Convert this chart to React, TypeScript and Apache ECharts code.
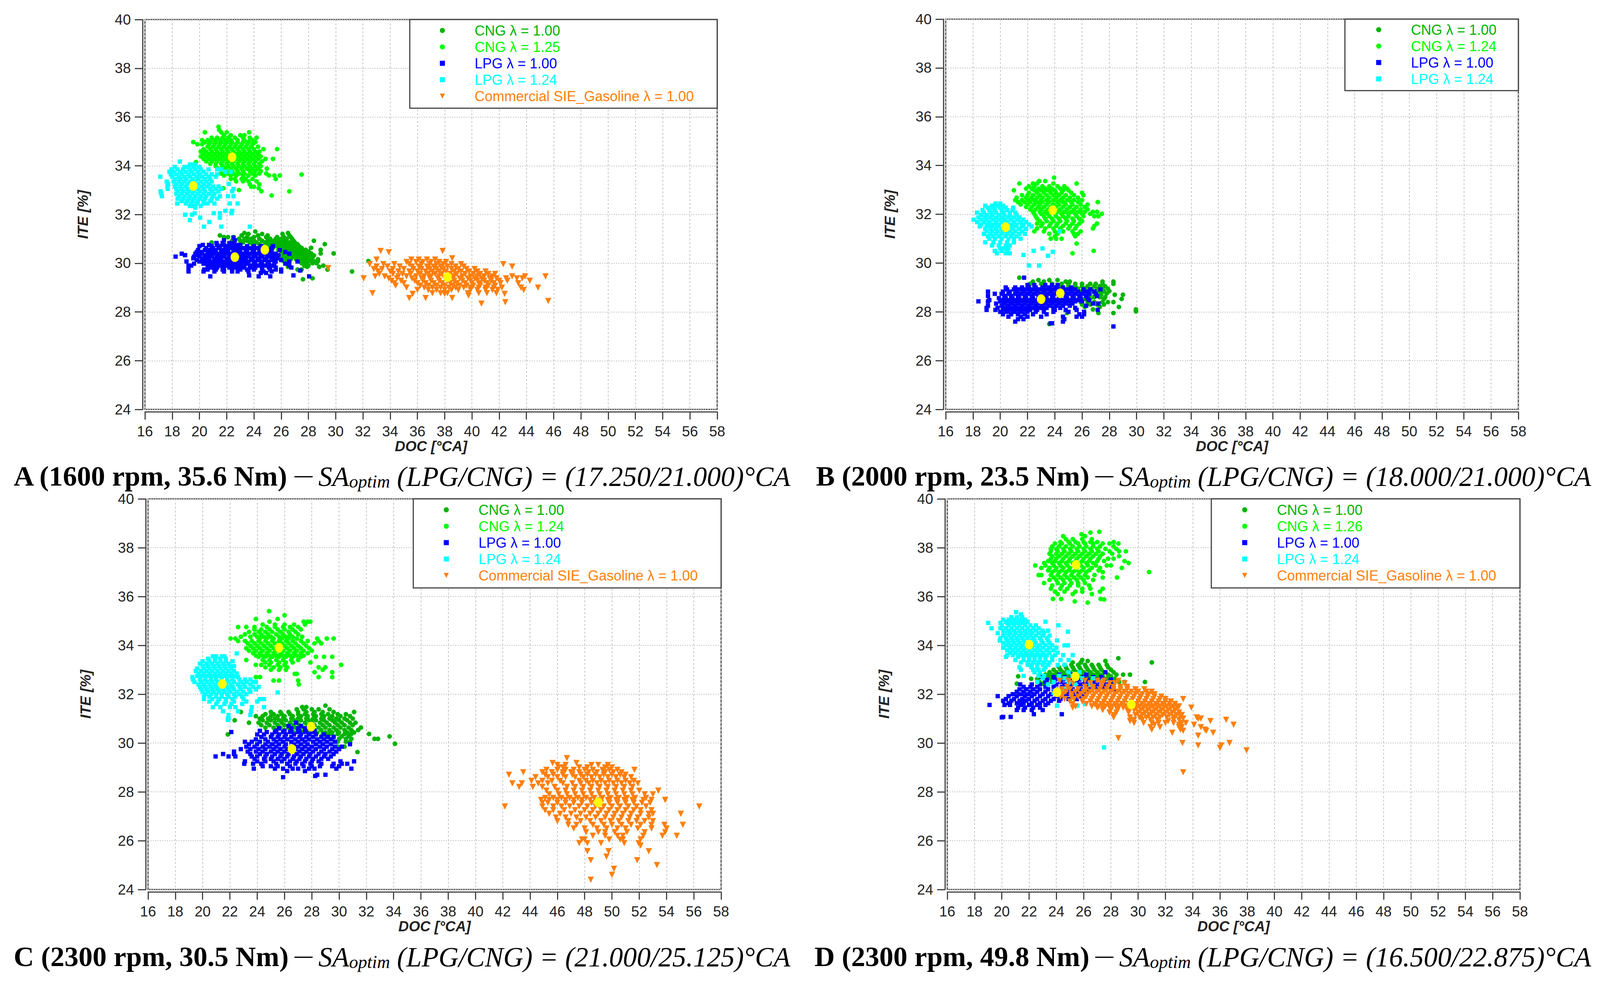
import React, { useEffect, useRef } from "react";
import * as echarts from "echarts";

// Each row: [ITE value, DOC values read at that ITE ...]
const aCng100 = [
[31.3,24.1],[31.24,23.3,26.5],[31.2,23.6,24.6,26.1],[31.14,21.5,23.1,24.3,25,26.6],[31.07,21.8,22.1,22.5,23.5,24,24.9,25.7,26.2,26.7],
[31,22.9,23.3,23.8,24.4,25.2,25.6,26,26.4,26.8],[30.92,22.4,23,23.5,24,24.6,25,25.5,25.9,26.3,26.9,28.4],[30.85,20.9,23.2,23.7,24.2,24.8,25.3,25.8,26.1,26.6,27],
[30.78,23.9,24.4,25,25.6,26,26.4,26.8,27.2,29.2],[30.7,24.6,25.2,25.7,26.2,26.6,27,27.3],[30.63,25.4,25.9,26.4,26.8,27.2,27.5,28.2],[30.55,25.8,26.2,26.6,27,27.4,27.8,28.9],
[30.48,26,26.5,26.9,27.3,27.7,28],[30.4,26.2,26.7,27.1,27.5,27.9,28.2,28.9,29.85],[30.32,26.1,26.5,26.9,27.3,27.7,28,28.4],[30.24,26,26.4,26.8,27.2,27.6,27.9,28.3],
[30.16,26.3,26.7,27.1,27.5,27.8,28.2,28.7],[30.08,26.2,26.5,27.4,27.7,28,28.4,28.7],[30,27.5,27.9,28.3,28.6],[29.9,27.7,28,29.1],[29.85,26.5,27.9,28.8],[29.74,27.2,27.5,29.4],[29.66,31.2],[29.38,28.3],[29.34,27.6],[30.09,32.4],
];
const aCng125 = [
[35.6,21.4],[35.47,21.45],[35.37,20.4,21.6,22,23.65],[35.25,21.8,22.3,23,23.3],[35.15,20.9,21.3,21.7,22.1,22.6,23.2,23.7,24.2],[35.05,20.2,20.6,21.1,21.5,21.9,22.3,22.8,23.3,23.9],
[34.97,19.55,20.4,20.8,21.2,21.6,22,22.4,22.8,23.2,23.6,24.1],[34.88,19.85,20.2,20.7,21.1,21.5,21.9,22.3,22.7,23.1,23.5,23.9],[34.78,20.6,21,21.4,21.8,22.2,22.6,23,23.4,23.8,24.3],[34.68,20.3,20.8,21.2,21.6,22,22.4,22.8,23.2,23.6,24,24.7,25.7],
[34.58,20.1,20.5,20.9,21.3,21.7,22.1,22.5,22.9,23.3,23.7,24.1,24.4],[34.48,20.3,20.7,21.1,21.5,21.9,22.3,22.7,23.1,23.5,23.9,24.3],[34.38,20.1,20.5,20.9,21.3,21.7,22.1,22.5,22.9,23.3,23.7,24.1,24.5],[34.28,20.3,20.7,21.1,21.5,21.9,22.3,22.7,23.1,23.5,23.9,24.3,24.85,25.4],
[34.18,20.5,20.9,21.3,21.7,22.1,22.5,22.9,23.3,23.7,24.1,24.6],[34.08,20.8,21.2,21.6,22,22.4,22.8,23.2,23.6,24,24.4],[33.98,21.2,21.7,22.1,22.5,22.9,23.3,23.7,24.1,24.5],[33.88,21.4,21.9,22.3,22.7,23.1,23.5,23.9,24.3,24.95],
[33.78,22,22.4,22.8,23.2,23.7,24.1,24.5],[33.68,21.6,22.1,22.5,22.9,23.3,23.9,24.4,24.9],[33.6,21.8,22.3,22.7,23.2,23.6,24.1,25.1,25.5,25.9],[33.46,22.3,22.6,23.1,23.4,23.9,25.6],
[33.36,22.7,23.2,23.6,24.2],[33.24,23.7,24.4],[33.14,23.8,24],[33.08,21.75,24.35],[33,22.9],[32.95,24.55,26.6],[32.78,25.3],[33.64,27.5],[34.15,19.75],
];
const aLpg100 = [
[31.05,22.5],[30.94,21.8,22.6],[30.83,21.25,21.7,22.2,22.5],[30.75,20.25,20.7,21.3,21.8,22.3,22.7,23],[30.7,20,20.9,21.5,22,22.5,23,23.5,24,24.5,25.4],
[30.62,20.5,21,21.4,21.9,22.3,22.8,23.3,23.8,24.3,24.8,25.3],[30.54,19.9,20.4,20.8,21.2,21.7,22.1,22.6,23,23.5,24,24.5,25,25.9],[30.46,19.8,20.2,20.7,21.1,21.6,22,22.5,22.9,23.4,23.9,24.4,24.9,25.3,26.3],[30.39,18.7,19.7,20.1,20.6,21,21.4,21.9,22.3,22.8,23.2,23.7,24.2,24.7,25.2,25.6,26.6],
[30.33,18.95,19.9,20.4,20.8,21.3,21.7,22.2,22.6,23.1,23.5,24,24.5,25,25.4,25.8],[30.27,18.25,19.6,20,20.5,20.9,21.4,21.8,22.3,22.7,23.2,23.6,24.1,24.6,25.1,25.5],[30.2,19.55,20.2,20.6,21.1,21.5,22,22.4,22.9,23.3,23.8,24.3,24.8,25.3,25.7],[30.13,19.8,20.3,20.7,21.2,21.6,22.1,22.5,23,23.4,23.9,24.4,24.9,25.4,26],
[30.07,19.05,20,20.5,20.9,21.4,21.8,22.3,22.7,23.2,23.6,24.1,24.6,25.1,25.6,26.6,27.2],[29.98,19.6,20.3,20.8,21.2,21.7,22.1,22.6,23,23.5,24,24.5,25,25.5,26.3],[29.9,19.2,19.4,20.6,21,21.5,21.9,22.4,22.9,23.3,23.8,24.3,24.8,25.3,26.6],[29.82,20.9,21.3,21.8,22.2,22.7,23.2,23.7,24.1,24.6,25.1,25.6,26.75],
[29.74,19.2,20.35,20.6,21.2,21.7,22.4,23,23.5,24,24.6,25.2,25.6,26],[29.66,19.2,20.3,21.1,21.8,22.4,22.8,23.6,24.7,25.3,26],[29.6,24.5,24.9],[29.5,23.65,26.9],[29.46,20.8,24.35,25.2,28.05],[29.7,27.4],
];
const aLpg124 = [
[34.17,18.56],[34.05,19.3,19.5,19.7],[33.95,18.2,18.9,19.2,19.6,20],[33.85,17.95,18.4,18.8,19.3,19.7,20.1,20.67,21.3,21.6],[33.75,17.8,18.1,18.6,19,19.4,19.9,20.3,21.9,22.3],
[33.65,17.9,18.3,18.7,19.2,19.6,20,20.5,20.9,21.3],[33.55,17.13,18,18.5,18.9,19.3,19.8,20.2,20.7,21.2],[33.45,18.2,18.6,19,19.5,19.9,20.4,20.8],[33.35,17.6,18.1,18.5,18.9,19.3,19.7,20.1,20.5,20.9],
[33.25,17.7,18.3,18.7,19.1,19.5,19.9,20.3,20.7,22.15],[33.15,17.65,18.2,18.6,19,19.4,19.8,20.2,20.6,21,21.4],[33.05,17.67,18.3,18.7,19.1,19.5,19.9,20.3,20.8,21.2,21.6,22.5],[32.95,17.15,18.4,18.8,19.2,19.6,20,20.4,20.9,21.4,22.4],
[32.85,17.2,18.3,18.7,19.1,19.5,19.9,20.3,20.7,21.1],[32.75,17.25,18.5,18.9,19.3,19.7,20.1,20.5,21,21.5,22.1,22.5],[32.65,18.4,18.8,19.2,19.6,20,20.4,20.9,21.3],[32.55,18.7,19.1,19.5,19.9,20.3,20.8],
[32.45,18.37,19,19.4,19.8,20.3,20.6,21.1,22.23,22.8],[32.35,19.3,19.6,20.1],[32.28,19.7],[32.15,21.9,22.4],[32.05,19.65,21.05,21.5,22.35],[31.99,18.95,19.45],[31.87,20.06,21.5],[31.77,19.3],[31.69,20.73],[31.5,20.33,21.6,23.7],
];
const aGas = [
[30.5,33.3,37.85],[30.45,33.9],[30.2,38.55],[30.15,33,35.55,36.1,36.7,37.3],[30.05,35.2,35.9,36.4,37,37.6,38.1],[29.96,32.5,33.5,34.3,35.4,36.3,36.9,37.4,37.9,38.5,39.2,42.3],
[29.86,33,33.8,34.7,35.6,36.1,36.7,37.2,37.7,38.2,38.8,39.4,42.95],[29.76,32.8,33.4,34.2,35,35.7,36.3,36.9,37.4,37.9,38.5,39,39.6,40.2],[29.66,33.1,34,34.6,35.4,36,36.6,37.1,37.6,38.1,38.7,39.2,39.8,40.4,41],
[29.56,33.2,34.2,34.9,35.5,36.2,36.8,37.3,37.8,38.4,38.9,39.5,40.1,40.6,41.2,41.7],[29.46,32.9,33.6,34.6,35.2,35.9,36.5,37,37.6,38.2,38.7,39.3,39.9,40.4,40.9,41.5,42.95,43.9,45.4],[29.38,32.05,33.9,34.5,35.6,36.3,36.9,37.5,38,38.6,39.1,39.7,40.2,40.7,41.3,41.8,42.5,43.3,43.7],
[29.28,34.1,34.8,35.8,36.4,37,37.6,38.2,38.7,39.3,39.9,40.4,40.9,41.4,42,42.6,44.25],[29.18,34.3,35,36,36.6,37.2,37.8,38.4,38.9,39.5,40,40.6,41.1,41.6,42.1,43.4],[29.08,34.4,36.2,36.8,37.4,38,38.6,39.1,39.6,40.1,40.6,41.2,41.7],
[29,35.2,36.5,37.1,37.7,38.3,38.8,39.4,39.9,40.5,41,41.6,44.85,42.2,43.6],[28.9,36,36.8,37.4,38,38.5,39,39.9,40.4,41,41.5,41.9,43.8],[28.77,32.7,37.1,37.7,38.2,39.7,40.5,41.1,41.8],[28.74,35.65,38,42.4],[28.67,39.75],[28.57,35.4,36.6,38.55],[28.45,45.6],[28.4,42.45],[28.34,40.7],[29.8,29.45],
];
const aMeans = [[22.4,34.35],[24.8,30.55],[22.6,30.25],[19.55,33.17],[38.2,29.43]];

const bCng100 = [
[29.4,21.4],[29.3,22.8,23.6,24.2],[29.24,22.4,23.2,24.8,25.1,27.5,28.3],[29.15,22.2,23,23.8,24.5,25,25.5,26,26.6,27,27.5,28.3],[29.05,24.5,25,25.5,26,26.4,26.9,27.3,27.7],
[28.95,25.2,25.7,26.2,26.7,27.1,27.5,27.9],[28.85,26,26.4,26.8,27.2,27.6,28],[28.75,26.6,27,27.4,27.8],[28.7,26.6,27,27.4,28.4,29],[28.6,26.4,26.9,27.3,27.7],[28.53,26.2,26.6,27.6,28.9],
[28.4,25.9,26.4,26.9,27.5,27.9,28.3],[28.3,26,26.6,27.1,27.6],[28.2,28.7,27.3,26.2],[28.1,29.95,26.8],[28.02,29.95],[27.95,28.3,27.2,24.9],[27.5,23.6],
];
const bCng124 = [
[33.5,23.95],[33.36,22.85,23.3],[33.26,21.4,22.4,22.7,23.9,25.6],[33.15,22.1,22.5,23.1,23.6,24.2,24.7],[33.05,21.9,22.3,22.8,23.3,23.8,24.4,24.9],[32.98,21,22.5,23,23.5,24,24.6,25],
[32.88,22.1,22.7,23.2,23.7,24.1,24.5,25.2,26],[32.78,21.6,22,22.4,22.9,23.4,23.9,24.3,24.8,25.4,26.1],[32.68,21.2,21.9,22.3,22.7,23.1,23.6,24.1,24.6,25.1,25.7],[32.58,21.1,21.6,22.1,22.5,23,23.4,23.9,24.4,24.9,25.4,26],
[32.5,21.3,21.8,22.2,22.7,23.1,23.6,24.2,24.6,25.2,25.7,27.15],[32.4,21.5,22,22.5,22.9,23.4,23.9,24.3,24.8,25.3,25.9,26.4],[32.3,21.9,22.3,22.8,23.2,23.7,24.1,24.6,25.1,25.6,26.2],[32.2,22.2,22.6,23,23.5,24,24.4,24.9,25.4,25.9,26.4],
[32.1,22.4,22.9,23.3,23.8,24.2,24.7,25.2,25.7,26.2,26.8,27.1],[32.02,22.5,23,23.5,24,24.5,25,25.5,26,26.6,27.45],[31.92,22.6,23.2,23.6,24.1,24.6,25,25.6,26.1,26.9,27.2],[31.82,22.7,23.3,23.8,24.3,24.8,25.3,25.8],
[31.72,22.9,23.4,23.9,24.4,24.9,25.4,26,26],[31.62,22.7,23.1,23.7,24.2,24.8,25.3,25.8,27.1],[31.52,23,23.6,24.1,24.6,25.1,25.6,26.9],[31.42,22.7,23.3,23.9,24.4,25,25.5,26.8],[31.3,22.5,23.2,24,24.6,25.3,25.9],[31.2,23.6,24.2,25.4,25.7],[31.1,24,25.5],[31,23.7,24.1,24.5],[30.8,25.6],[30.5,26.85],[30.4,25.3],
];
const bLpg100 = [
[29.4,21.75],[29.1,22,22.5,23.3,23.8,24.2],[29,20.4,21.1,21.6,22.1,22.6,23.1,23.6,24.1,24.6,25.2],[28.92,20.5,21,21.4,21.9,22.4,22.9,23.4,23.9,24.4,24.9,25.5,26.1,26.6,27.35],[28.83,19.1,20.2,20.7,21.2,21.7,22.2,22.7,23.2,23.7,24.2,24.7,25.2,25.7,26.3,26.9],
[28.74,19.6,20.1,20.6,21.1,21.5,22,22.5,23,23.5,24,24.5,25,25.5,26,26.5,27],[28.65,19.1,20.3,20.8,21.3,21.8,22.3,22.8,23.3,23.8,24.3,24.8,25.3,25.8,26.3,27.1],[28.56,19.9,20.4,20.9,21.4,21.9,22.4,22.9,23.4,23.9,24.4,24.9,25.4,25.9,26.4],[28.48,19.2,20.2,20.7,21.2,21.7,22.2,22.7,23.2,23.7,24.2,24.7,25.2,25.7,26.5],
[28.43,18.4,19.1,20,20.5,21,21.5,22,22.5,23,23.5,24,24.5,25,25.5,26],[28.34,19.7,20.3,20.8,21.3,21.8,22.3,22.8,23.3,23.8,24.3,24.8,25.3,26.8,27.2],[28.25,19.1,20.1,20.6,21.1,21.6,22.1,22.6,23.1,23.6,24.1,24.6,25.1,26.3],[28.16,19,19.8,20.4,20.9,21.4,21.9,22.4,22.9,23.4,23.9,24.4,25.5],
[28.08,19,19.65,20.2,20.7,21.2,21.7,22.2,22.7,23.2,24,24.8,25.6,27.15],[28,20,20.5,21,21.5,22,22.6,23.2,23.9,25,26.15],[27.9,20.2,20.8,21.3,21.8,22.4,23.4,25.8,26.15],[27.8,20.6,21.5,22,23,24.6,25.6,26],[27.7,21.3,21.7,24.7],[27.6,21.1,24.6],[27.53,23.7,23.8],[27.4,28.3],
];
const bLpg124 = [
[32.44,19.65,20],[32.35,18.9,19.4,19.8,20.2],[32.27,19.1,19.5,20,20.4,20.95],[32.17,18.7,19.2,19.6,20.1,20.5,20.9],[32.07,18.3,18.8,19.3,19.7,20.2,20.7,21.1],[31.97,18.6,19,19.4,19.9,20.3,20.7,21.2],
[31.87,18.4,18.9,19.3,19.7,20.1,20.6,21,21.4],[31.78,18.05,18.6,19,19.5,19.9,20.3,20.8,21.3,21.7],[31.68,18.3,18.8,19.2,19.7,20.1,20.5,21,21.5,21.9],[31.58,18.6,19.1,19.5,19.9,20.3,20.8,21.2,21.7,22.1],
[31.5,18.5,19,19.4,19.8,20.3,20.7,21.1,21.6,22.3],[31.4,18.9,19.3,19.7,20.1,20.5,20.9,21.4,21.9],[31.3,19,19.4,19.8,20.2,20.7,21.1,21.6,24.35],[31.2,18.8,19.3,19.7,20.1,20.5,20.9,21.4,21.8],
[31.1,19.1,19.5,19.9,20.4,20.8,21.2],[31,19.2,19.6,20.1,20.6,21,21.5],[30.85,18.9,19.5,20,20.5,21],[30.72,19.4,19.9,20.4,20.7],[30.6,20,20.3,20.6,23.1],[30.5,19.6,20.1,20.5,22.45],[30.4,19.75,20.4,20.7],[30.46,23.85],[30.33,21.7],[30.3,23.5],[29.9,22.1,22.85],
];
const bMeans = [[23.85,32.17],[24.4,28.76],[23,28.52],[20.4,31.47]];

const cCng100 = [
[31.53,29],[31.47,27.3,27.6],[31.38,26.9,27.4,28,28.5,29.3],[31.27,22.8,25,25.7,26.3,27,27.6,28.2,28.8,29.6,31.1],[31.18,24.6,25.2,25.8,26.4,27,27.5,28.1,28.7,29.2,29.9,30.5],[31.1,23.9,24.4,25,25.5,26,26.6,27.2,27.7,28.3,28.9,29.5,30.1,30.8],
[31,24.2,24.8,25.3,25.9,26.5,27,27.6,28.1,28.7,29.3,29.8,30.4,31],[30.93,22.35,24.4,25,25.6,26.1,26.7,27.2,27.8,28.3,28.9,29.5,30,30.6],[30.83,23.4,24.1,24.7,25.3,25.8,26.4,26.9,27.5,28,28.6,29.1,29.7,30.2,30.8,31.2],[30.73,24.3,24.9,25.5,26,26.6,27.1,27.7,28.2,28.8,29.3,29.9,30.4,31],
[30.63,24.6,25.2,25.7,26.3,26.8,27.4,27.9,28.5,29,29.6,30.1,30.7,31.6],[30.53,25.4,26,26.5,27.1,27.6,28.2,28.7,29.3,29.8,30.4,30.9,31.4],[30.43,26.7,27.3,27.9,28.4,29,29.5,30,30.6,31.1],[30.37,28.8,29.3,29.9,30.4,30.9,32.2],[30.35,21.85],
[30.27,29.1,29.6,30.2,30.7,33.7],[30.17,29.5,30,30.5,30.9,32.6,32.85],[30.05,29.9,30.5,30.8],[29.97,34.1],[29.85,29.9,30.4],[29.63,31.35],
];
const cCng124 = [
[35.4,24.87],[35.23,26],[35.08,23.9,25.5],[34.97,24.9,27.7,27.9,27.4],[34.85,24.4,25.3,26,26.7,27.5],[34.75,22.6,23.2,23.8,24.7,25.3,25.9,26.4,27],[34.65,23.8,24.3,24.9,25.5,26,26.6,27.2],
[34.55,23.4,24.1,24.6,25.1,25.7,26.3,26.8],[34.45,23.1,23.8,24.3,24.8,25.4,25.9,26.4,27],[34.35,22.8,23.5,24,24.5,25,25.6,26.1,26.6,27.3],[34.28,22.05,22.4,24.2,24.7,25.2,25.8,26.3,26.9,28.4,29.1,29.6],[34.18,22.6,23.1,23.6,24.1,24.6,25.1,25.6,26.1,26.6,27.2,27.7,28.5],
[34.08,23.3,23.8,24.3,24.8,25.3,25.8,26.3,26.8,27.4,28.2,28.7],[33.98,23.5,24,24.5,25,25.5,26,26.5,27,27.6],[33.88,23.2,23.7,24.2,24.7,25.2,25.7,26.2,26.7,27.2,27.8],[33.78,23.4,23.9,24.4,24.9,25.4,25.9,26.4,26.9,27.4,28],
[33.68,23.7,24.2,24.7,25.2,25.7,26.2,26.7,27.2,27.7],[33.58,23.9,24.4,24.9,25.4,25.9,26.4,26.9,27.4],[33.53,24.1,24.6,25.1,25.6,26.1,26.6,27.2,28.3,28.9,29.5],[33.4,23.2,24.4,24.9,25.4,25.9,26.5,27],[33.3,24.6,25,25.6,26.1,26.6,27.9],
[33.2,23.9,24.3,24.9,25.5,26,30.15],[33.1,24.6,25.2,25.7,26.2,28.5,29],[33,25,25.6,26.1,28.8],[32.9,29.5,28.2],[32.83,26.75,26.9],[32.7,23.9,24.2,29.5,28.5],[32.56,25.6,25.2,27],[32.4,27.05],
];
const cLpg100 = [
[30.83,26.85],[30.7,26.3,27.2],[30.6,25.6,26.5,27,27.5],[30.5,24.2,25.4,26,26.5,27.1,27.6,28.2],[30.45,22.1,24.7,25.3,25.9,26.4,27,27.5,28],[30.35,24,24.5,25.1,25.6,26.1,26.7,27.2,27.8,28.3,28.9],
[30.25,24.3,25,25.5,26,26.5,27.1,27.6,28.1,28.7,29.2,29.6],[30.15,23.9,24.6,25.2,25.7,26.2,26.8,27.3,27.8,28.4,28.9,29.4],[30.05,23.1,23.6,24.2,24.8,25.4,25.9,26.5,27,27.5,28.1,28.6,29.1,29.7],[29.95,23.4,24,24.6,25.1,25.6,26.1,26.7,27.2,27.7,28.3,28.8,29.4,30.8],
[29.85,23.2,23.8,24.4,24.9,25.4,26,26.5,27,27.5,28,28.6,29.1,29.7,30.2],[29.75,22.8,23.5,24.1,24.6,25.2,25.7,26.2,26.8,27.3,27.8,28.3,28.9,29.5,30],[29.65,22.3,23.3,23.9,24.4,25,25.5,26,26.6,27.1,27.6,28.1,28.7,29.3,29.8],[29.55,21.5,22.3,23.5,24.2,24.7,25.3,25.8,26.3,26.9,27.4,27.9,28.5,29,29.6],
[29.45,20.95,21.9,22.4,23.6,24,24.6,25.1,25.7,26.2,26.7,27.2,27.8,28.3,28.9,29.4],[29.35,23.8,24.5,25,25.5,26,26.6,27.1,27.6,28.1,28.7,29.2],[29.25,23.1,24,24.6,25.2,25.8,26.4,26.9,27.5,28,28.5,30.1,31.1],[29.15,23.05,23.7,24.3,25.4,26.2,26.8,27.3,27.9,28.7,29.6,30.2,30.6],
[29.05,24.4,25,25.5,26.4,27.4,28,28.6,29.5,30],[28.95,23.75,25.3,25.9,26.6,27,27.8,28.2,29.8,30.9],[28.85,26.2,27.5],[28.7,28.4,29],[28.65,28.25],[28.6,25.9],
];
const cLpg124 = [
[33.67,22.5],[33.55,20.75,21,21.4,21.6],[33.45,20.4,20.9,21.3,21.7],[33.35,20,20.5,20.9,21.3,21.7,22.2],[33.25,19.8,20.3,20.7,21.1,21.5,21.9],[33.15,20,20.4,20.8,21.2,21.6,22,22.3],[33.05,19.6,20.1,20.5,20.9,21.3,21.7,22.1],
[32.95,19.5,19.9,20.3,20.7,21.1,21.5,21.9,22.3],[32.85,19.7,20.1,20.5,20.9,21.3,21.7,22.1,22.5],[32.75,19.6,20,20.4,20.8,21.2,21.6,22,22.4],[32.7,19.25,19.8,20.2,20.6,21,21.4,21.8,22.2,22.6],[32.6,19.3,19.8,20.2,20.6,21,21.4,21.8,22.2,22.7,23.1,23.5],
[32.5,19.4,19.9,20.3,20.7,21.1,21.5,21.9,22.3,22.8,23.2,23.7,23.9],[32.4,19.7,20.1,20.5,20.9,21.3,21.7,22.1,22.6,23,23.5],[32.3,19.8,20.2,20.6,21,21.4,21.8,22.2,22.7,23.1,23.7,24.1],[32.2,19.9,20.3,20.7,21.1,21.5,21.9,22.3,22.8,23.4,23.9],
[32.1,20,20.4,20.8,21.2,21.6,22,22.5,23,23.5],[32.07,25.5],[32,20.2,20.6,21,21.4,21.8,22.3,22.7,23.2],[31.9,20.1,20.5,21,21.4,21.9,22.4,22.9],[31.8,20.1,20.7,21.2,21.7,22.2,23,24.2,24.5],[31.7,20.5,21.1,21.7,22.3,23.2,24],
[31.6,21,21.6,22.1,22.9],[31.47,20.75,21.3,22,22.4,24.5,23.6],[31.3,21.5,22.6,23.55],[31.15,21.9,23.5],[31,21.85,21.9],[30.95,21.85],
];
const cGas = [
[29.38,46.7],[29.18,45.65,47.4],[29.1,46,46.6,48.5,49,49.7],[29,46.1,46.4,47.6,48.2,49.5,50],[28.9,45.2,46,46.6,47.2,48,48.6,49.3,49.8,50.4,51.65],[28.8,43.5,44.9,45.6,46.4,47,47.6,48.3,48.9,49.5,50.1,50.7],
[28.7,42.45,45.1,45.7,46.4,47.1,47.7,48.2,48.8,49.4,50,50.6,51],[28.6,44.4,45.3,46,46.6,47.3,47.9,48.5,49.1,49.7,50.3,50.9,51.4],[28.45,44.1,44.9,45.6,46.2,47.6,48.1,48.6,49.2,49.8,50.4,51,51.6],[28.35,42.7,43.4,44.6,45.3,46.4,47.1,47.7,48.3,48.9,49.5,50.1,50.7,51.3,51.9],
[28.2,43.2,44.2,44.9,45.8,46.7,47.3,47.9,48.5,49.1,49.7,50.3,50.9,51.5],[28.05,45.2,46,46.6,47.2,47.8,48.4,49,49.6,50.2,50.8,51.4,52,53.4],[27.9,45.4,46.1,46.7,47.3,47.9,48.5,49.1,49.7,50.3,50.9,51.5,52.4,53],[27.75,45.1,45.7,46.3,46.9,47.5,48.1,48.7,49.3,49.9,50.5,51.1,51.7,52.5],
[27.67,44.8,45.4,46,46.6,47.2,47.8,48.4,49.1,49.7,50.3,50.9,51.5,52.3,52.9,53.9],[27.55,44.9,45.3,46,46.6,47.2,47.8,48.5,49.2,49.8,50.4,51,51.6,52.2,52.8],[27.4,42.15,44.9,45.7,46.3,46.9,47.6,48.2,48.8,49.4,50,50.6,51.2,51.8,52.5,56.4],[27.25,45.1,45.7,46.5,47.3,48,48.6,49.2,49.8,50.4,51,51.6,52.1,52.9],
[27.1,45.4,46.2,47,47.7,48.4,49,49.6,50.2,50.8,51.4,52.1,52.7,53,55.05],[26.95,45.9,46.6,47.4,48.1,48.8,49.5,50.1,50.7,51.3,51.9,52.7],[26.8,46,46.8,47.7,48.4,49.2,49.9,50.5,51.2,51.8,52.4,53],[26.65,46.8,47.4,48.6,49.4,50,50.7,51.4,52.1,52.9,53.85,55.2],
[26.5,47.2,48,48.9,49.6,50.4,51,51.9,52.9,54],[26.35,48.1,49,49.5,50.2,51.1,52.4,53.9],[26.2,48.6,49.5,50.4,50.8,52.3,53.7,54.75],[26.05,47.8,48,49.8,50.6,50.8,52.1],[25.9,47.6,48.2,49.2,50.9,51.95],[25.8,52.1],[25.57,48.2,49.75,52.7],[25.35,49.6],[25.2,48.45,51.85],[25,53.3],[24.85,50.15],[24.6,50],[24.4,48.45],
];
const cMeans = [[25.6,33.9],[27.95,30.67],[26.55,29.75],[21.45,32.42],[49,27.57]];

const dCng100 = [
[33.47,28.55],[33.4,25.9],[33.36,26.3,27.6],[33.3,31,25.2,25.8],[33.2,24.6,25.1,25.6,26.1,26.6,27.1,27.7],[33.1,24.2,24.7,25.2,25.7,26.2,26.7,27.2,27.8],[33,23.8,24.3,24.8,25.3,25.8,26.3,26.8,27.3,28],
[32.9,23.5,24,24.5,25,25.5,26,26.5,27,27.5,28.2],[32.8,23.2,23.7,24.2,24.7,25.2,25.7,26.2,26.7,27.2,27.8,28.4,29.4,28.9],[32.73,21.2,22.8,23.4,23.9,24.4,24.9,25.4,25.9,26.4,26.9,27.4,28],[32.63,22.15,22.6,23.1,23.6,24.1,24.6,25.1,25.6,26.1,26.6,27.1,27.7,28.3],
[32.5,22.75,23.2,23.7,28,28.6,29,30.5],[32.43,21.1,23,23.4],
];
const dCng126 = [
[38.65,27.15],[38.62,26.5],[38.55,25.85],[38.47,24.5,26.1],[38.35,24.7,25.2,25.9,26.6],[38.23,24.3,24.9,25.4,26,26.5,27,28.2],[38.17,23.9,24.4,25,25.6,26.1,26.7,27.4,28.55,27.9],[38.05,23.7,24.2,24.7,25.2,25.7,26.2,26.7,27.2,28.2],
[37.95,23.6,24,24.5,25,25.5,26,26.5,27,27.6,28.4],[37.85,23.6,24.1,24.6,25.1,25.6,26.1,26.6,27.1,27.9,29.1,28.6],[37.75,23.5,24,24.4,24.9,25.4,25.9,26.4,26.9,27.4,28.1],[37.65,23.7,24.2,24.7,25.2,25.7,26.2,26.7,27.2,28.6],[37.55,23.6,24,24.5,25,25.5,26,26.5,27.1,27.8,28.2],
[37.45,23.4,23.9,24.4,24.9,25.4,25.9,26.4,27,27.5,29],[37.37,23.1,23.7,24.2,24.7,25.2,25.7,26.2,26.7,29.3],[37.27,22.45,23.2,23.8,24.3,24.8,25.3,25.8,26.3,26.9,27.7,28],[37.17,22.9,23.5,24,24.5,25,25.5,26,26.6,27.2,28.8],[37.07,23.4,23.9,24.4,24.9,25.4,25.9,26.4,27.1],
[37,23.7,24.2,24.7,25.2,25.7,26.2,30.8,27.4],[36.88,22.7,22.9,23.6,24.1,24.6,25.1,25.6,26.1,26.8],[36.78,23.8,24.3,24.8,25.3,25.8,26.3,28.45,27.4],[36.68,23.5,24,24.5,25,25.5,26,26.7],[36.55,23.1,24.1,24.6,25.1,25.6,26.1],
[36.45,23.7,24.4,25,25.6,26.4],[36.32,23.6,24.3,24.8,25.9,26.5,27.4],[36.2,23.9,24.6,25.4,25.9,27.2],[36.1,24.1,25.2,26.6],[35.9,23.75,24.35,27.25],[35.88,27.5],[35.8,25.35],[35.75,26.3],
];
const dLpg100 = [
[32.9,27.6],[32.8,24.2,25.2,26.2],[32.7,22.9,23.8,24.6,25.3,26,26.7,27.3],[32.6,23.3,23.9,24.5,25.1,25.7,26.3,26.9,27.5,28],[32.5,23.2,23.8,24.3,24.9,25.5,26.1,26.7,27.3,27.9],[32.4,21.35,22.2,22.8,23.4,24,24.6,25.2,25.8,26.4,27,27.6,28.1],
[32.3,21.6,22.1,22.6,23.2,23.8,24.4,25,25.6,26.2,26.8,27.4,28],[32.2,21.3,21.8,22.3,22.8,23.4,24,24.6,25.2,25.8,26.4,27,28.2],[32.1,21.1,21.6,22.1,22.6,23.2,23.8,24.4,25,25.6,26.2],[32,20.8,21.4,21.9,22.4,23,23.6,24.2,24.8,25.4,26],[31.92,19.7,20.5,21.1,21.7,22.2,22.8,23.4,24,24.6,25.2,25.8],
[31.8,20.3,20.9,21.5,22,22.6,23.2,23.8,24.3,24.9,25.5],[31.73,20.1,20.7,21.3,21.8,22.4,23,23.6,24.2],[31.63,20.5,21.1,21.6,22.2,22.8,23.4],[31.56,19.1,20.2,20.6,21.4,22,22.6,23.2],[31.45,21.2,21.7,22.3,22.8],[31.35,21.1,21.6,22.2,23],[31.18,22.35,24.4],[31.07,20.65,20.1],[31.05,20],
];
const dLpg124 = [
[35.36,21.05],[35.27,21.4],[35.15,20.7,21.1,21.5],[35.05,20.1,20.5,20.9,21.3,21.7],[34.97,20.3,20.7,21.1,21.5,21.9,23.2],[34.92,19,19.9,20.4,20.8,21.2,21.6],[34.82,20,20.5,20.9,21.3,21.7,22.1,22.5,24.15],[34.7,19.25,19.9,20.3,20.7,21.1,21.5,21.9,22.3,22.7],
[34.6,20.1,20.5,20.9,21.3,21.7,22.1,22.5,23,23.4],[34.56,24.85],[34.5,19.7,20.2,20.6,21,21.4,21.8,22.2,22.7,23.1],[34.4,20.1,20.5,20.9,21.3,21.7,22.1,22.5,23,23.5],[34.3,19.9,20.3,20.7,21.1,21.5,21.9,22.3,22.8,23.3],[34.2,19.85,20.4,20.8,21.2,21.6,22,22.4,22.9,23.4,24.05],
[34.1,20.1,20.5,20.9,21.3,21.7,22.1,22.5,23,23.5],[34,20.3,20.7,21.1,21.5,21.9,22.3,22.7,23.2,23.7,24.85,24.6],[33.9,20.1,20.6,21,21.4,21.8,22.2,22.6,23,23.5,24],[33.8,20.4,20.8,21.2,21.6,22,22.4,22.8,23.3,23.8],[33.7,20.6,21,21.4,21.8,22.2,22.6,23,23.5,24.1],
[33.6,20.4,20.8,21.3,21.7,22.1,22.5,22.9,23.3,23.9,24.5,25.2],[33.53,20.3,21.2,21.6,22,22.4,22.8,23.2,23.7],[33.4,21,21.6,22,22.4,22.8,23.2,23.7,24.3,24.9],[33.3,21.4,21.9,22.3,22.7,23.1,23.5],[33.2,21.9,22.2,22.6,23,23.4,24.1,24.6],
[33.1,21.3,22.2,22.6,23.2],[33,21.4,22.3,22.7,23.1],[32.9,22.4,22.8,24.9,25.7],[32.75,21.6,22.7,23.1,24.2,25.2],[32.65,23,24.6,25.9,26.7],[32.5,22.6,23.8,24.9,27.3],[32.4,23.4,25.4,26.5],[32.2,24.6],[32.05,23.8],[31.53,24.05,25.55],[31.6,26.1],[29.82,27.5],
];
const dGas = [
[32.55,24.25,24.9,26.1,27,27.5,28.55],[32.45,25.2,26.5,27.3,27.9,28.3,29],[32.3,24.8,26.1,26.7,27.3,27.8,28.2,28.7,29.2],[32.2,24.4,25,25.6,26.2,26.7,27.2,27.7,28.2,28.7,29.2,29.8,30.45],[32.1,24.1,24.7,25.4,26,26.5,27,27.5,28,28.5,29,29.5,30,30.6,31],
[32,23.9,24.5,25.1,25.8,26.3,26.8,27.3,27.8,28.3,28.8,29.3,29.8,30.3,30.8,31.2],[31.9,24.3,25.1,25.6,26.2,26.7,27.2,27.7,28.2,28.7,29.2,29.7,30.2,30.7,31.2,31.7],[31.8,24.6,25.3,26,26.6,27.1,27.6,28.1,28.6,29.1,29.6,30.1,30.6,31.1,31.6,32,33.3],[31.7,25,25.9,26.5,27,27.5,28,28.5,29,29.5,30,30.5,31,31.5,32,32.4],
[31.6,25.2,26.2,26.8,27.3,27.8,28.3,28.8,29.3,29.8,30.3,30.8,31.3,31.8,32.3,32.7],[31.5,25.4,26.6,27.1,27.6,28.1,28.6,29.1,29.6,30.1,30.6,31.1,31.6,32.1,32.6,33],[31.45,25.2,33.9,27,27.4,27.9,28.4,28.9,29.4,29.9,30.4,30.9,31.4,31.9,32.4,32.9],[31.35,27.4,28,28.5,29.2,29.7,30.2,30.7,31.2,31.7,32.2,32.7],
[31.25,27.9,28.4,29.3,30,30.5,31,31.5,32,32.5,33],[31.15,28.2,29.8,30.3,30.8,31.3,31.8,32.3,32.8,33.2],[31.05,28.2,29.4,30.1,30.6,31.1,31.6,32.1,32.6,33.1,34.3],[31,34.4,34.6,33.3],[30.95,29.7,30.3,30.9,31.4,32.6,33,36.45],[30.9,35.3,29.4,32.2],[30.82,29.7,30.4,31,31.5,32,32.6,33.2,33.5],
[30.75,37,31.2,33,34.1],[30.65,30.9,31.6,33,33.2,34.6],[30.55,31,33.1,34.9],[30.5,35,33.3],[30.42,32.5,35.5],[30.3,34.4],[30.2,28.55],[30,33.25,36.7],[29.9,34.4,36.1],[29.8,36],[29.7,37.95],[28.8,33.3],
];
const dMeans = [[25.45,37.3],[25.4,32.72],[24.05,32.08],[22,34.03],[29.5,31.58]];

const xMin = 16, xMax = 58, xStep = 2;
const yMin = 24, yMax = 40, yStep = 2;
const xName = "DOC [°CA]";
const yName = "ITE [%]";
const meanName = "Mean";

const DGREEN = "#00b400", LGREEN = "#00ff00", BLUE = "#0000ff", CYAN = "#00ffff", ORANGE = "#ff7f0e";
const TRI = "path://M0 0H10L5 10Z";

const panels = [
  { box: [371, 1836, 50, 1048], legend: [1049, 277, 1126, 60], caption: [35, 1215], gas: aGas, means: aMeans, yGap: 134,
    head: "A (1600 rpm, 35.6 Nm)", sa: " (LPG/CNG) = (17.250/21.000)°CA",
    set: [["CNG λ = 1.00", aCng100], ["CNG λ = 1.25", aCng125], ["LPG λ = 1.00", aLpg100], ["LPG λ = 1.24", aLpg124]] },
  { box: [2421, 3887, 49, 1048], legend: [3443, 232, 3523, 58], caption: [2089, 1215], gas: null, means: bMeans, yGap: 118,
    head: "B (2000 rpm, 23.5 Nm)", sa: " (LPG/CNG) = (18.000/21.000)°CA",
    set: [["CNG λ = 1.00", bCng100], ["CNG λ = 1.24", bCng124], ["LPG λ = 1.00", bLpg100], ["LPG λ = 1.24", bLpg124]] },
  { box: [379, 1846, 1277, 2277], legend: [1058, 1505, 1136, 1287], caption: [35, 2445], gas: cGas, means: cMeans, yGap: 135,
    head: "C (2300 rpm, 30.5 Nm)", sa: " (LPG/CNG) = (21.000/25.125)°CA",
    set: [["CNG λ = 1.00", cCng100], ["CNG λ = 1.24", cCng124], ["LPG λ = 1.00", cLpg100], ["LPG λ = 1.24", cLpg124]] },
  { box: [2425, 3891, 1277, 2277], legend: [3101, 1505, 3180, 1287], caption: [2085, 2445], gas: dGas, means: dMeans, yGap: 137,
    head: "D (2300 rpm, 49.8 Nm)", sa: " (LPG/CNG) = (16.500/22.875)°CA",
    set: [["CNG λ = 1.00", dCng100], ["CNG λ = 1.26", dCng126], ["LPG λ = 1.00", dLpg100], ["LPG λ = 1.24", dLpg124]] },
];

const SANS = "'Liberation Sans', Arial, sans-serif";
const SERIF = "'Liberation Serif', 'Times New Roman', serif";
const W = 4113, H = 2524;

const toPoints = (rows: number[][]) => rows.flatMap(([y, ...xs]) => xs.map((x) => [x, y]));

function buildOption() {
  const grid: any[] = [], xAxis: any[] = [], yAxis: any[] = [], series: any[] = [], legend: any[] = [], graphic: any[] = [];
  const frame = { color: "#444", width: 3 };
  panels.forEach((p, i) => {
    const [l, r, t, b] = p.box;
    grid.push({ left: l, top: t, width: r - l, height: b - t, show: true, borderColor: "#444", borderWidth: 3, backgroundColor: "transparent" });
    xAxis.push({
      type: "value", gridIndex: i, min: xMin, max: xMax, interval: xStep, offset: 6,
      name: xName, nameLocation: "middle", nameGap: 70,
      nameTextStyle: { fontFamily: SANS, fontSize: 37, fontWeight: "bold", fontStyle: "italic", color: "#222" },
      axisLine: { show: true, onZero: false, lineStyle: frame },
      axisTick: { show: true, length: 20, lineStyle: { color: "#444", width: 3 } },
      axisLabel: { margin: 32, fontFamily: SANS, fontSize: 37, color: "#222", showMinLabel: true, showMaxLabel: true, hideOverlap: false },
      splitLine: { show: true, lineStyle: { color: "#c4c4c4", width: 2, type: [5, 5] } },
    });
    yAxis.push({
      type: "value", gridIndex: i, min: yMin, max: yMax, interval: yStep, offset: 6,
      name: yName, nameLocation: "middle", nameGap: p.yGap, nameRotate: 90,
      nameTextStyle: { fontFamily: SANS, fontSize: 37, fontWeight: "bold", fontStyle: "italic", color: "#222" },
      axisLine: { show: true, onZero: false, lineStyle: frame },
      axisTick: { show: true, length: 20, lineStyle: { color: "#444", width: 3 } },
      axisLabel: { margin: 30, fontFamily: SANS, fontSize: 37, color: "#222", showMinLabel: true, showMaxLabel: true, hideOverlap: false },
      splitLine: { show: true, lineStyle: { color: "#c4c4c4", width: 2, type: [3, 3] } },
    });
    const styleOf = [
      { color: DGREEN, symbol: "circle", size: 12 },
      { color: LGREEN, symbol: "circle", size: 12 },
      { color: BLUE, symbol: "rect", size: 11 },
      { color: CYAN, symbol: "rect", size: 11 },
    ];
    const legendData: any[] = [];
    p.set.forEach(([name, rows]: any, k: number) => {
      const s = styleOf[k];
      series.push({ type: "scatter", name, xAxisIndex: i, yAxisIndex: i, symbol: s.symbol, symbolSize: s.size, itemStyle: { color: s.color, opacity: 1 }, data: toPoints(rows), silent: true });
      legendData.push({ name, icon: s.symbol, itemStyle: { opacity: 1 }, textStyle: { color: s.color } });
    });
    if (p.gas) {
      const name = "Commercial SIE_Gasoline λ = 1.00";
      series.push({ type: "scatter", name, xAxisIndex: i, yAxisIndex: i, symbol: TRI, symbolSize: 16, itemStyle: { color: ORANGE, opacity: 1 }, data: toPoints(p.gas), silent: true });
      legendData.push({ name, icon: TRI, itemStyle: { opacity: 1 }, textStyle: { color: ORANGE } });
    }
    series.push({ type: "scatter", name: meanName, xAxisIndex: i, yAxisIndex: i, symbol: "circle", symbolSize: [22, 25], itemStyle: { color: "#ffff00", opacity: 1 }, data: p.means, silent: true, z: 3 });
    const [bl, bb, il, it] = p.legend;
    legend.push({
      left: il, top: it, orient: "vertical", align: "left", padding: 0, itemGap: 6, itemWidth: 13, itemHeight: 13,
      selectedMode: false, data: legendData, z: 4,
      textStyle: { fontFamily: SANS, fontSize: 36, padding: [0, 0, 0, 71] },
    });
    graphic.push({ type: "rect", z: 1, shape: { x: bl, y: t, width: r - bl, height: bb - t }, style: { fill: "#fff", stroke: "#444", lineWidth: 3 } });
    graphic.push({
      type: "text", z: 5, x: p.caption[0], y: p.caption[1],
      style: {
        text: `{b|${p.head}}{d|—}{i|SA}{s|optim}{i|${p.sa}}`,
        verticalAlign: "middle", align: "left", fill: "#000", fontFamily: SERIF,
        rich: {
          b: { fontFamily: SERIF, fontWeight: "bold", fontSize: 72, lineHeight: 80, fill: "#000", verticalAlign: "bottom" },
          d: { fontFamily: SERIF, fontWeight: "bold", fontSize: 46, lineHeight: 80, fill: "#000", padding: [0, 15, 0, 15], verticalAlign: "middle" },
          i: { fontFamily: SERIF, fontStyle: "italic", fontSize: 71, lineHeight: 80, fill: "#000", verticalAlign: "bottom" },
          s: { fontFamily: SERIF, fontStyle: "italic", fontSize: 46, lineHeight: 62, fill: "#000", verticalAlign: "bottom" },
        },
      },
    });
  });
  return { animation: false, backgroundColor: "#fff", grid, xAxis, yAxis, series, legend, graphic };
}

export default function App() {
  const ref = useRef<HTMLDivElement>(null);
  useEffect(() => {
    const chart = echarts.init(ref.current!, undefined, { renderer: "svg" });
    chart.setOption(buildOption() as any);
    return () => chart.dispose();
  }, []);
  return <div ref={ref} style={{ position: "absolute", left: 0, top: 0, width: W, height: H }} />;
}
